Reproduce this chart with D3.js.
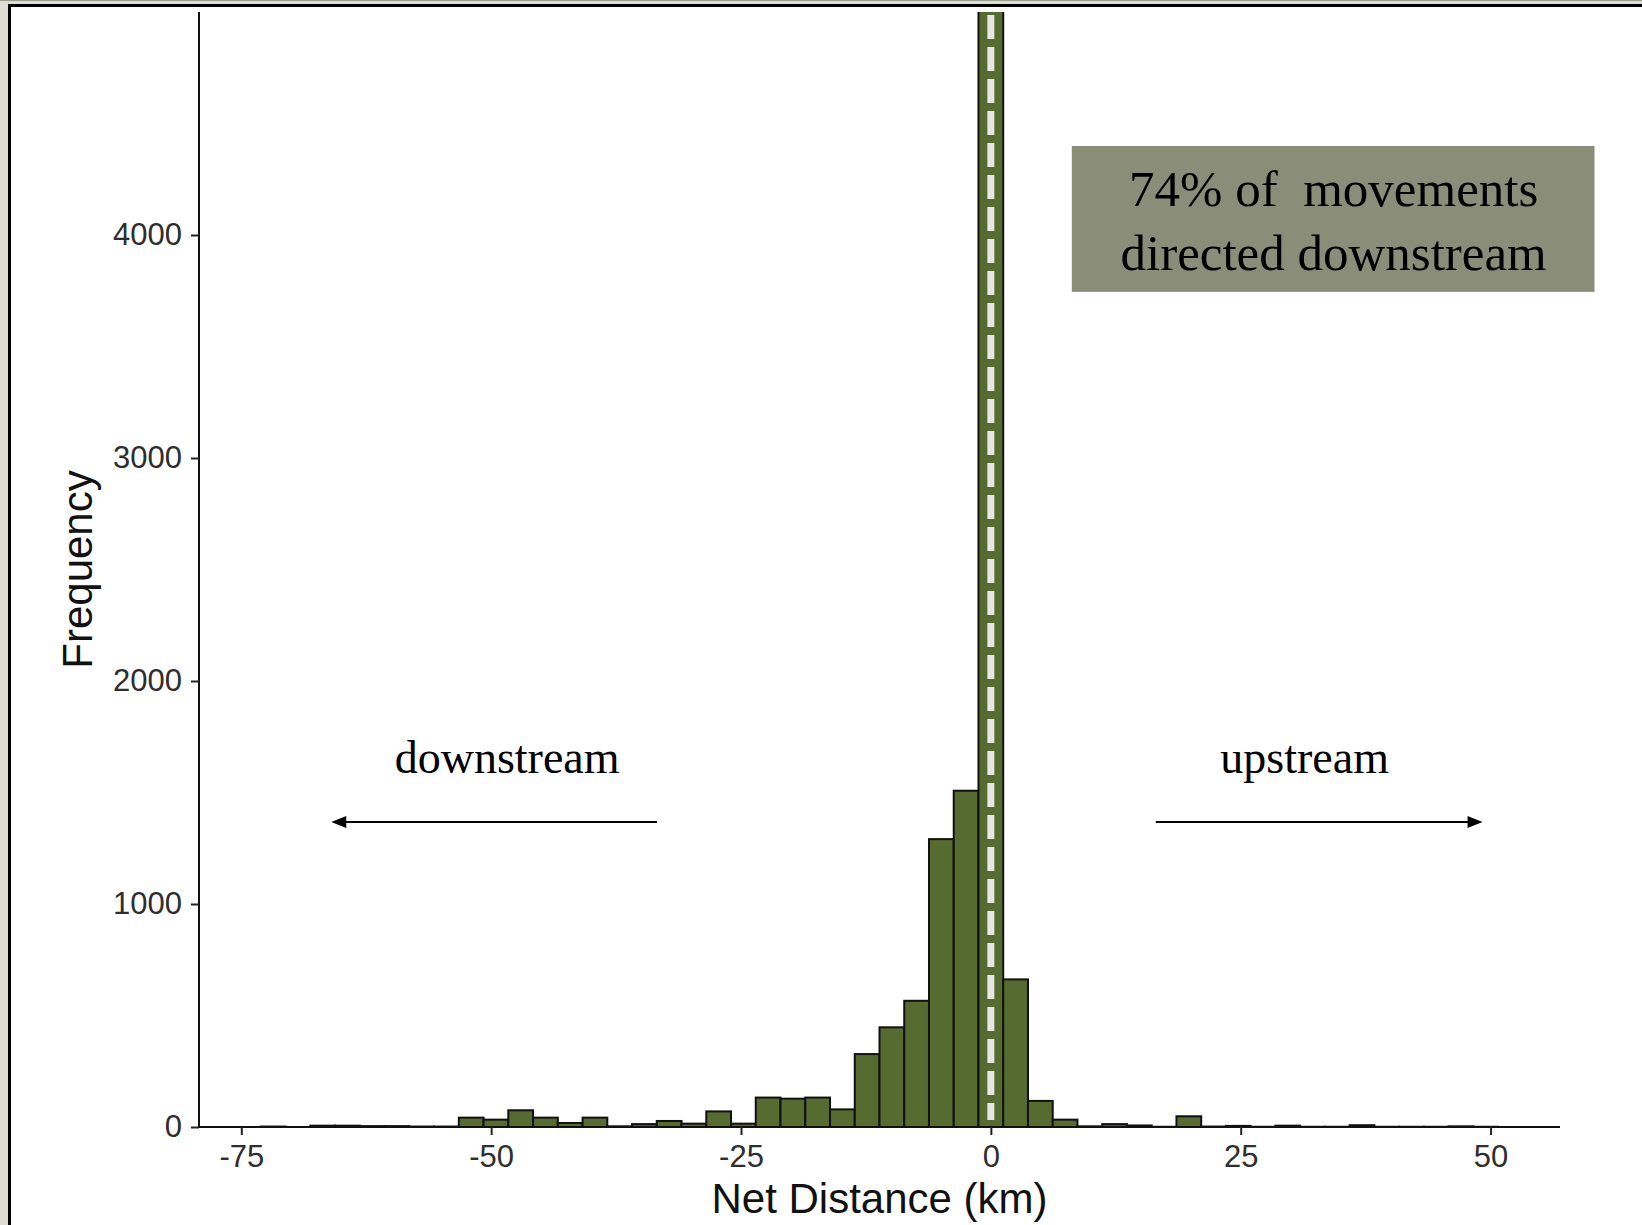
<!DOCTYPE html>
<html>
<head>
<meta charset="utf-8">
<script src="https://cdn.jsdelivr.net/npm/d3@7"></script>
<style>
  html, body { margin: 0; padding: 0; background: #e4e3db; }
  svg { display: block; }
</style>
</head>
<body>
<svg id="chart" width="1642" height="1225"></svg>
<script>
// ---- data ----
const binWidth = 2.476;                 // km
const binIndex = d3.range(-29, 21);     // bins centred on k * binWidth
const counts = [
  2, 0, 6, 6, 4, 4, 2, 2, 42, 33,
  75, 42, 18, 42, 3, 13, 27, 15, 70, 15,
  132, 127, 132, 79, 327, 447, 566, 1291, 1508, 7800,
  662, 117, 33, 3, 13, 7, 1, 48, 2, 5,
  1, 6, 1, 1, 8, 1, 1, 1, 3, 1
];
const xTicks = [-75, -50, -25, 0, 25, 50];
const yTicks = [0, 1000, 2000, 3000, 4000];
const yMax = 5000;
const boxLines = ["74% of  movements", "directed downstream"];
const dirLabels = [{text: "downstream", x: -48.4, y: 1587}, {text: "upstream", x: 31.4, y: 1587}];
const arrows = [{from: -33.4, to: -66.0, y: 1368}, {from: 16.5, to: 49.2, y: 1368}];
const box = {x0: 8.1, x1: 60.4, y0: 3745, y1: 4399, lineY: [4130, 3843], cx: 34.3};

// ---- layout ----
const svg = d3.select("#chart");
const panel = {left: 199, right: 1560, top: 12, bottom: 1127};

// frame (slide crop)
svg.append("rect").attr("x", 0).attr("y", 0).attr("width", 1642).attr("height", 1225).attr("fill", "#dedcd3");
svg.append("rect").attr("x", 0).attr("y", 0).attr("width", 1642).attr("height", 1).attr("fill", "#9c9e8c");
svg.append("rect").attr("x", 8).attr("y", 4).attr("width", 1634).attr("height", 1221).attr("fill", "#000");
svg.append("rect").attr("x", 11).attr("y", 7).attr("width", 1631).attr("height", 1218).attr("fill", "#fff");

const bins = binIndex.map((k, i) => ({x0: (k - 0.5) * binWidth, x1: (k + 0.5) * binWidth, n: counts[i]}));
const dMin = d3.min(bins, d => d.x0), dMax = d3.max(bins, d => d.x1);
const pad = (dMax - dMin) * 0.05;

const x = d3.scaleLinear().domain([dMin - pad, dMax + pad]).range([panel.left, panel.right]);
const y = d3.scaleLinear().domain([0, yMax]).range([panel.bottom, panel.top]);

svg.append("defs").append("clipPath").attr("id", "clip")
  .append("rect").attr("x", panel.left).attr("y", panel.top)
  .attr("width", panel.right - panel.left).attr("height", panel.bottom - panel.top + 5);

const g = svg.append("g").attr("clip-path", "url(#clip)");
g.selectAll("rect.bar").data(bins).join("rect")
  .attr("class", "bar")
  .attr("x", d => x(d.x0))
  .attr("width", d => x(d.x1) - x(d.x0))
  .attr("y", d => y(d.n))
  .attr("height", d => y(0) - y(d.n))
  .attr("fill", "#556b2f")
  .attr("stroke", "#111")
  .attr("stroke-width", 2);

// dashed zero line
g.append("line")
  .attr("x1", x(0)).attr("x2", x(0))
  .attr("y1", y(yMax)).attr("y2", y(0) - 7)
  .attr("stroke", "#e6e6e6").attr("stroke-width", 7)
  .attr("stroke-dasharray", "24,8").attr("stroke-dashoffset", 29);

// axes
const axisFont = "'Liberation Sans', Arial, Helvetica, sans-serif";
const fmt = d => String(d);
const xAxis = svg.append("g").attr("transform", `translate(0,${panel.bottom})`)
  .call(d3.axisBottom(x).tickValues(xTicks).tickFormat(fmt).tickSize(8).tickPadding(10).tickSizeOuter(0));
const yAxis = svg.append("g").attr("transform", `translate(${panel.left},0)`)
  .call(d3.axisLeft(y).tickValues(yTicks).tickFormat(fmt).tickSize(8).tickPadding(9).tickSizeOuter(0));
[xAxis, yAxis].forEach(a => {
  a.select(".domain").attr("stroke", "#111").attr("stroke-width", 2);
  a.selectAll(".tick line").attr("stroke", "#222").attr("stroke-width", 2);
  a.selectAll(".tick text").attr("fill", "#2e2e2e").style("font-family", axisFont).style("font-size", "31px");
});
xAxis.select(".domain").attr("d", `M${panel.left},0H${panel.right}`);
yAxis.select(".domain").attr("d", `M0,${panel.top}V${panel.bottom}`);
xAxis.selectAll(".tick text").attr("dy", "0.71em");

svg.append("text").text("Net Distance (km)")
  .attr("x", (panel.left + panel.right) / 2).attr("y", 1213)
  .attr("text-anchor", "middle").attr("fill", "#111")
  .style("font-family", axisFont).style("font-size", "42px");
svg.append("text").text("Frequency")
  .attr("transform", `translate(92,${(panel.top + panel.bottom) / 2}) rotate(-90)`)
  .attr("text-anchor", "middle").attr("fill", "#111")
  .style("font-family", axisFont).style("font-size", "42px");

// annotations
const serif = "'Liberation Serif', 'DejaVu Serif', serif";
svg.selectAll("text.dir").data(dirLabels).join("text").attr("class", "dir")
  .text(d => d.text).attr("x", d => x(d.x)).attr("y", d => y(d.y))
  .attr("text-anchor", "middle").attr("fill", "#000")
  .style("font-family", serif).style("font-size", "46px");

arrows.forEach(a => {
  const x0 = x(a.from), x1 = x(a.to), yy = y(a.y);
  const dir = Math.sign(x1 - x0);
  svg.append("line").attr("x1", x0).attr("x2", x1 - dir * 8).attr("y1", yy).attr("y2", yy)
    .attr("stroke", "#000").attr("stroke-width", 2);
  svg.append("path")
    .attr("d", `M${x1},${yy} L${x1 - dir * 15},${yy - 6} L${x1 - dir * 15},${yy + 6} Z`)
    .attr("fill", "#000");
});

svg.append("rect").attr("x", x(box.x0)).attr("y", y(box.y1))
  .attr("width", x(box.x1) - x(box.x0)).attr("height", y(box.y0) - y(box.y1))
  .attr("fill", "#8a8e78");
svg.selectAll("text.box").data(boxLines).join("text").attr("class", "box")
  .text(d => d).attr("x", x(box.cx)).attr("y", (d, i) => y(box.lineY[i]))
  .attr("text-anchor", "middle").attr("fill", "#000")
  .style("white-space", "pre")
  .style("font-family", serif).style("font-size", "51px");
</script>
</body>
</html>
